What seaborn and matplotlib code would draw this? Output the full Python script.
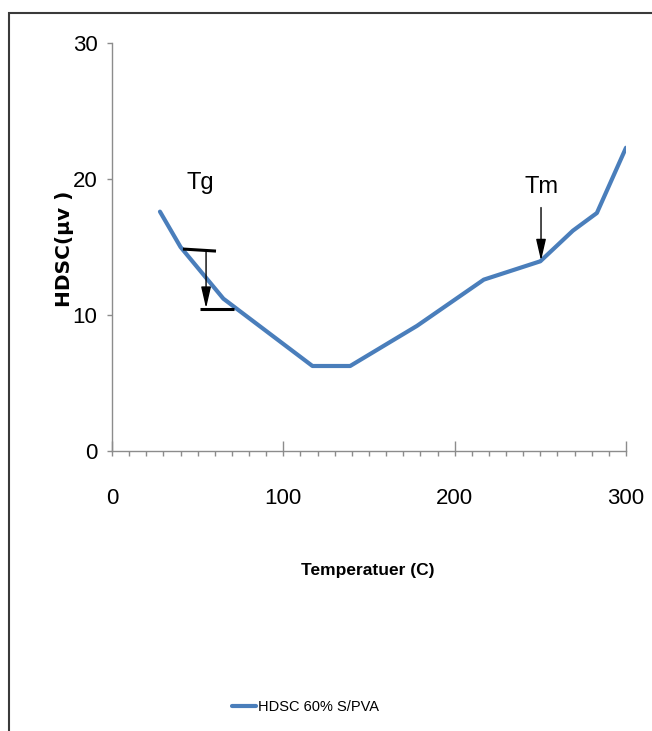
import matplotlib
matplotlib.use("Agg")
import matplotlib.pyplot as plt
from matplotlib import font_manager
from matplotlib.patches import Rectangle
from matplotlib.lines import Line2D
from matplotlib.ticker import MultipleLocator
import seaborn as sns
import pandas as pd

# DSC trace for the 60% S/PVA blend
temperature = [28, 40, 65, 117, 139, 178, 217, 250, 269, 283, 300]
hdsc = [17.6, 15.0, 11.2, 6.25, 6.25, 9.2, 12.6, 13.95, 16.2, 17.5, 22.3]
series_name = "HDSC 60% S/PVA"

x_ticks = [0, 100, 200, 300]
y_ticks = [0, 10, 20, 30]

df = pd.DataFrame({"Temperature": temperature, "HDSC": hdsc, "series": series_name})

sns.set_style("white")
names = {f.name for f in font_manager.fontManager.ttflist}
narrow = "Liberation Sans Narrow" if "Liberation Sans Narrow" in names else "Liberation Sans"
plt.rcParams["font.family"] = [narrow, "DejaVu Sans"]
plt.rcParams["text.color"] = "black"
plt.rcParams["xtick.labelcolor"] = "black"
plt.rcParams["ytick.labelcolor"] = "black"

fig = plt.figure(figsize=(6.52, 7.31), dpi=100)
ax = fig.add_axes([112 / 652, 1 - 451 / 731, (626 - 112) / 652, (451 - 43) / 731])

line_color = "#4A7EBB"
sns.lineplot(data=df, x="Temperature", y="HDSC", hue="series", palette=[line_color],
             linewidth=3.0, ax=ax, legend=False)

ax.set_xlim(0, 300)
ax.set_ylim(0, 30)
ax.set_xticks(x_ticks)
ax.set_yticks(y_ticks)
ax.xaxis.set_minor_locator(MultipleLocator(10))
ax.xaxis.remove_overlapping_locs = False
ax.set_xticklabels([str(v) for v in x_ticks], fontsize=16)
ax.set_yticklabels([str(v) for v in y_ticks], fontsize=16)

axis_gray = "#8C8C8C"
for side in ["top", "right"]:
    ax.spines[side].set_visible(False)
for side in ["left", "bottom"]:
    ax.spines[side].set_color(axis_gray)
    ax.spines[side].set_linewidth(1.0)

ax.tick_params(axis="y", which="major", direction="out", length=3.5, width=1,
               color=axis_gray, pad=7, left=True)
ax.tick_params(axis="x", which="major", direction="in", length=7, width=1,
               color=axis_gray, pad=27, bottom=True)
ax.tick_params(axis="x", which="minor", direction="out", length=3.5, width=1,
               color=axis_gray, bottom=True)

ax.set_xlabel("")
ax.set_ylabel("")
fig.text(368 / 652, 1 - 570 / 731, "Temperatuer (C)", ha="center", va="center",
         fontsize=12.5, fontweight="bold")
fig.text(64 / 652, 1 - 249 / 731, "HDSC(\u00b5v )", ha="center", va="center",
         rotation=90, fontsize=14.5, fontweight="bold", family="DejaVu Sans")

# Glass transition marker
ax.text(51.4, 19.7, "Tg", ha="center", va="center", fontsize=17)
ax.plot([41.4, 60.7], [14.85, 14.7], color="black", linewidth=2.2, solid_capstyle="butt")
ax.plot([51.4, 71.2], [10.44, 10.44], color="black", linewidth=2.2, solid_capstyle="butt")
ax.annotate("", xy=(54.9, 10.5), xytext=(54.9, 14.75),
            arrowprops=dict(arrowstyle="-|>,head_length=1.3,head_width=0.3",
                            color="black", lw=1.0, shrinkA=0, shrinkB=0))

# Melting point marker
ax.text(250.4, 19.4, "Tm", ha="center", va="center", fontsize=17)
ax.annotate("", xy=(250.4, 14.0), xytext=(250.4, 17.9),
            arrowprops=dict(arrowstyle="-|>,head_length=1.3,head_width=0.3",
                            color="black", lw=1.0, shrinkA=0, shrinkB=0))

# Legend below the plot
handle = Line2D([], [], color=line_color, linewidth=3.0)
fig.legend([handle], [series_name], loc="center left",
           bbox_to_anchor=(232 / 652, 1 - 707 / 731), borderpad=0, borderaxespad=0,
           frameon=False, fontsize=10.5, handlelength=1.65, handletextpad=0.1)

# Chart-area border, clipped by the figure edge on the right and bottom
fig.patches.append(Rectangle((9 / 652, -0.1), 1.2, 1.1 - 13 / 731, transform=fig.transFigure,
                             fill=False, edgecolor="#3A3A3A", linewidth=1.5, figure=fig))

fig.savefig("out.png", dpi=100)
